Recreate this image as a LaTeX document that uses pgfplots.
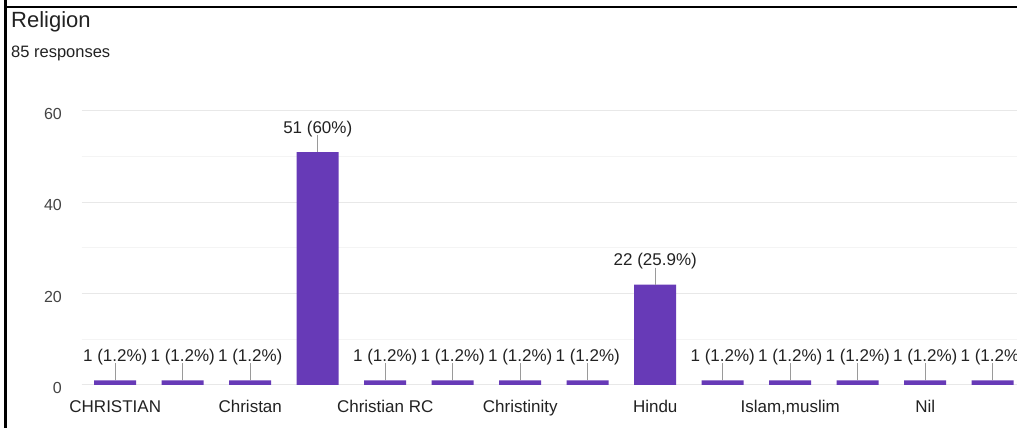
\documentclass[border=0pt]{standalone}
\usepackage{pgfplots}
\usepackage{pgfplotstable}
\pgfplotsset{compat=1.18}
\usepackage{fontspec}
\setmainfont{Liberation Sans}
\definecolor{barpurple}{HTML}{673AB7}
\definecolor{gridmaj}{HTML}{E8E8E8}
\definecolor{gridmin}{HTML}{F4F4F4}
\definecolor{txt}{HTML}{222222}
\definecolor{ticktxt}{HTML}{444444}
\definecolor{leader}{HTML}{9A9A9A}
\definecolor{baseline}{HTML}{555555}
\pgfplotstableread[col sep=comma]{
x,y,err,lab
0,1,3.72,1 (1.2\%)
1,1,3.72,1 (1.2\%)
2,1,3.72,1 (1.2\%)
3,51,3.72,51 (60\%)
4,1,3.72,1 (1.2\%)
5,1,3.72,1 (1.2\%)
6,1,3.72,1 (1.2\%)
7,1,3.72,1 (1.2\%)
8,22,3.72,22 (25.9\%)
9,1,3.72,1 (1.2\%)
10,1,3.72,1 (1.2\%)
11,1,3.72,1 (1.2\%)
12,1,3.72,1 (1.2\%)
13,1,3.72,1 (1.2\%)
}\religiondata
\begin{document}
\begin{tikzpicture}[x=1pt,y=1pt]
\useasboundingbox (0,0) rectangle (1017,428);
\clip (0,0) rectangle (1017,428);
\fill[white] (0,0) rectangle (1017,428);
\draw[black, line width=2.8pt] (5.8,428) -- (5.8,0);
\draw[black, line width=2.6pt] (4.4,421) -- (1017,421);
\node[anchor=base west, inner sep=0pt, font=\fontsize{22}{25}\selectfont, text=txt] at (11,400) {Religion};
\node[anchor=base west, inner sep=0pt, font=\fontsize{16.5}{19}\selectfont, text=txt] at (11,370) {85 responses};
\begin{axis}[
  at={(81.5pt,43pt)}, anchor=south west, scale only axis,
  width=935.5pt, height=274pt,
  xmin=-0.5, xmax=13.36, ymin=0, ymax=60,
  enlarge x limits=false, enlarge y limits=false,
  clip=false,
  ybar, bar width=42pt,
  ytick={0,20,40,60}, minor ytick={10,30,50},
  ymajorgrids, yminorgrids,
  major grid style={draw=gridmaj, line width=1pt},
  minor grid style={draw=gridmin, line width=1pt},
  xtick={0,2,4,6,8,10,12},
  xticklabels={CHRISTIAN,Christan,Christian RC,Christinity,Hindu,{Islam,muslim},Nil},
  major tick length=0pt, minor tick length=0pt,
  axis line style={draw=none},
  extra y ticks={0}, extra y tick labels={},
  extra y tick style={grid style={draw=baseline, line width=1.4pt}},
  /pgf/number format/assume math mode=true,
  yticklabel style={font=\fontsize{16}{18}\selectfont, text=ticktxt, anchor=east, inner sep=0pt, xshift=-19.5pt, yshift=-3pt},
  xticklabel style={font=\fontsize{17}{20}\selectfont, text=txt, anchor=base, inner sep=0pt, yshift=-27.8pt},
  point meta=explicit symbolic,
  nodes near coords,
  every node near coord/.append style={font=\fontsize{17}{20}\selectfont, text=txt, anchor=base, inner sep=0pt, yshift=19pt},
]
\addplot[fill=barpurple, draw=none,
  error bars/.cd, y dir=plus, y explicit, error mark=none,
  error bar style={draw=leader, line width=0.9pt}]
  table[x=x, y=y, y error=err, meta=lab]{\religiondata};
\end{axis}
\end{tikzpicture}
\end{document}
